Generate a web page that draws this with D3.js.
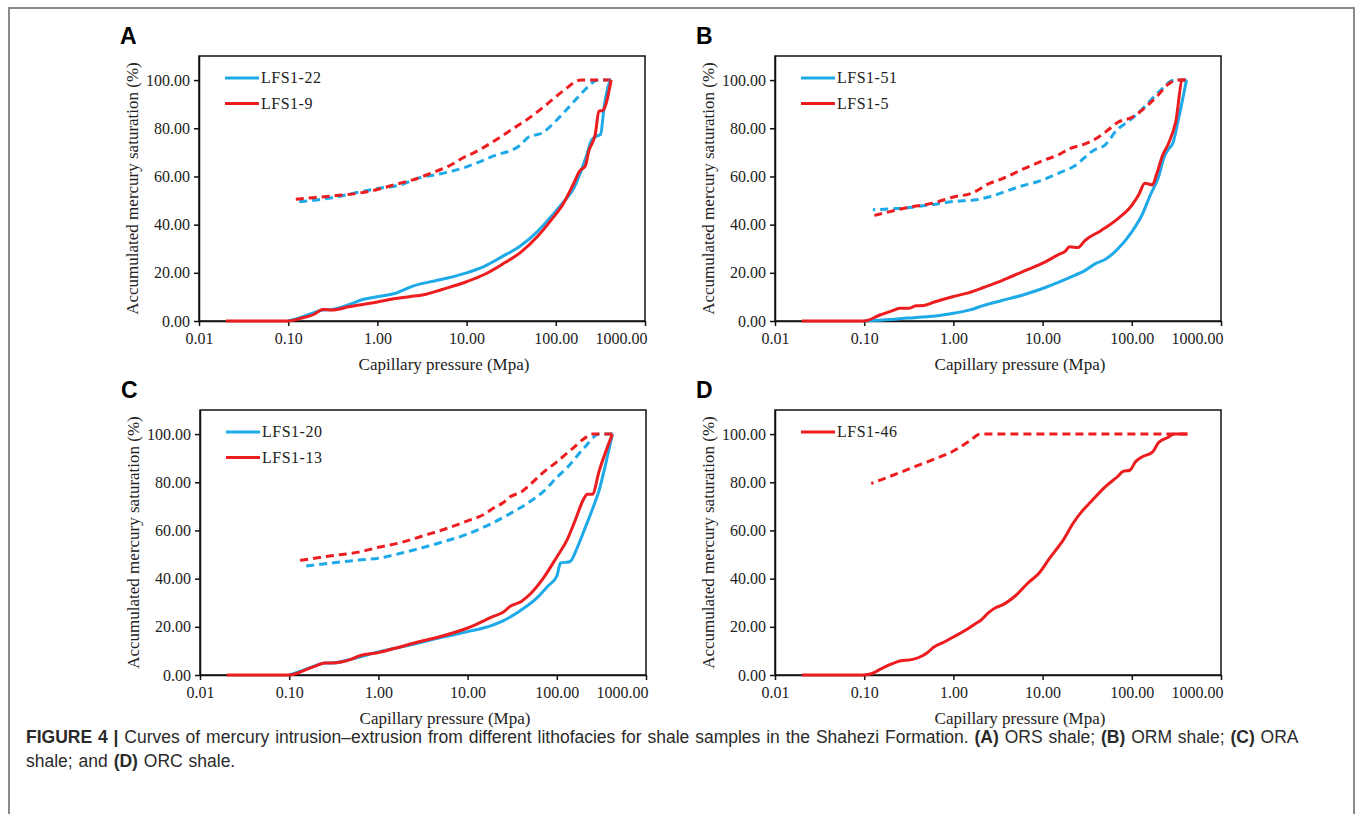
<!DOCTYPE html>
<html>
<head>
<meta charset="utf-8">
<script src="https://cdn.jsdelivr.net/npm/d3@7"></script>
<style>
  body { margin: 0; background: #fff; }
  svg { display: block; }
</style>
</head>
<body>
<svg id="fig" width="1357" height="814"></svg>
<script>
// tick labels
var xTicks = [0.01, 0.1, 1, 10, 100, 1000];
var yTicks = [0, 20, 40, 60, 80, 100];
var panelLetters = ["A", "B", "C", "D"];
var sampleNames = [["LFS1-22", "LFS1-9"], ["LFS1-51", "LFS1-5"], ["LFS1-20", "LFS1-13"], ["LFS1-46"]];

// panel A  [pressure (MPa), saturation (%)]
var a22In = [[0.1,0],[0.135,1.4],[0.195,3.5],[0.245,4.6],[0.31,4.8],[0.49,6.9],[0.7,9],[1.0,10.1],[1.6,11.5],[2.5,14.5],[5.3,17.3],[10,20],[16,22.8],[25,26.7],[40,31.1],[63,37.3],[90,43.6],[120,49.1],[160,55.3],[214,67.1],[255,75.4],[290,76.8],[318,77.5],[349,89.2],[400,99],[417,100]];
var a22Out = [[417,100],[300,100],[200,95],[150,90],[100,83],[70,78],[50,76.5],[40,73],[20,68.5],[10,64],[5,61],[3,59.5],[1.8,56.5],[1.0,55],[0.59,53.3],[0.31,51.2],[0.195,50.1],[0.123,49.4]];
var a9In = [[0.02,0],[0.1,0],[0.135,1],[0.195,2.8],[0.245,4.8],[0.31,4.6],[0.49,6],[1.0,7.9],[1.6,9.3],[2.3,10.1],[3.3,10.9],[5.3,13.1],[10,16.3],[16,19.4],[25,23.5],[40,28.4],[63,35.3],[90,42.2],[120,48.4],[160,57.4],[185,62.2],[214,64.3],[234,70.5],[277,77.5],[304,87],[339,87.5],[417,100]];
var a9Out = [[417,100],[192,100],[120,95.4],[75,89.2],[48,83.7],[30,78.8],[19,74],[12,69.8],[10,68.5],[6.3,64.3],[4.1,61.5],[2.6,58.8],[1.6,56.7],[1.0,54.6],[0.6,53],[0.31,51.9],[0.19,51.2],[0.12,50.5]];

// panel B
var b51In = [[0.1,0],[0.2,0.6],[0.3,1.2],[0.5,1.8],[0.7,2.3],[1.0,3.2],[1.5,4.5],[2.2,6.5],[3.5,8.5],[6,10.8],[10,13.5],[20,18],[30,21],[40,24],[50,25.5],[70,30],[100,37],[130,44],[160,52],[200,60],[230,68],[260,71.5],[290,74],[330,83],[410,100]];
var b51Out = [[410,100],[300,100],[200,95],[140,89],[100,84],[67,79],[50,73],[38,71],[22,64],[15,61.3],[10,58.5],[5.5,55.8],[2.6,51.7],[1.8,50.3],[1,49.6],[0.55,48.2],[0.26,46.8],[0.125,46.2]];
var b5In = [[0.02,0],[0.1,0],[0.15,2.5],[0.22,4.6],[0.25,5.3],[0.32,5.3],[0.38,6.3],[0.46,6.4],[0.6,7.8],[1.0,10.2],[1.5,11.8],[2.2,14],[3.5,16.8],[6,20.5],[10,24],[15,27.5],[18,29],[20,30.8],[25,30.5],[30,33.5],[45,37.5],[70,42.5],[100,48],[120,52.5],[140,57.2],[170,56.5],[190,61],[220,68.5],[260,74],[310,82.5],[370,100],[400,100]];
var b5Out = [[400,100],[330,100],[250,98],[200,94],[150,89.5],[100,84.5],[70,82.5],[55,79.5],[45,77],[30,73.5],[20,71.5],[15,69],[10,66.5],[6,63],[3.5,59],[2.5,57],[1.6,53],[1.0,51.5],[0.6,49],[0.3,47],[0.13,43.8]];

// panel C
var c20In = [[0.1,0],[0.15,2.2],[0.2,4],[0.25,5],[0.3,5],[0.5,6.6],[1.0,9.6],[2,12],[5,15.5],[10,18],[15,19.5],[25,22.5],[40,27],[60,32],[80,37],[100,41],[110,46.5],[140,47],[170,53],[210,61.5],[255,69.5],[300,77],[340,85],[420,100]];
var c20Out = [[420,100],[300,100],[200,94],[130,86],[100,82],[70,76],[50,72],[30,67],[20,63.5],[10,58.5],[5,55],[2,51],[1,48.5],[0.6,47.7],[0.3,46.5],[0.14,45]];
var c13In = [[0.02,0],[0.1,0],[0.15,2],[0.2,3.8],[0.25,5],[0.3,5],[0.5,6.6],[0.6,7.8],[1.0,9.3],[1.5,11],[3,14],[5,16],[10,19.5],[20,24.5],[25,26],[30,28.5],[40,30.5],[50,33.5],[70,40],[100,49],[130,56],[160,64],[200,73],[220,75],[250,75],[300,85],[420,100]];
var c13Out = [[420,100],[250,100],[200,98],[150,94],[100,88.5],[70,84],[50,79],[40,76],[30,74],[25,71.5],[20,69.5],[15,66.5],[10,64],[6,61],[3,57.5],[1.8,55],[1,53],[0.6,51],[0.3,49.5],[0.13,47.5]];

// panel D
var d46In = [[0.02,0],[0.1,0],[0.12,0.5],[0.15,2.3],[0.2,4.5],[0.25,5.8],[0.35,6.5],[0.45,8],[0.5,9],[0.6,11.5],[0.8,13.8],[1,15.8],[1.5,19.5],[1.8,21.5],[2,22.5],[2.5,26],[3,28],[3.5,29],[5,33],[7,38.5],[9,42],[12,48.5],[17,56],[22,63],[27,67.5],[35,72],[50,78],[70,82.5],[80,84.5],[95,85],[110,88.5],[130,90.5],[170,92.5],[200,96.5],[250,98.5],[300,100],[420,100]];
var d46Out = [[420,100],[2,100],[1.5,97],[1,93],[0.6,89.5],[0.4,87],[0.25,84],[0.12,79.5]];

var blue = "#1ea9e8", red = "#ec1c1f";

var panels = [
  {left: 199, top: 56, series: [{name: sampleNames[0][0], color: blue, inn: a22In, out: a22Out}, {name: sampleNames[0][1], color: red, inn: a9In, out: a9Out}]},
  {left: 775, top: 56, series: [{name: sampleNames[1][0], color: blue, inn: b51In, out: b51Out}, {name: sampleNames[1][1], color: red, inn: b5In, out: b5Out}]},
  {left: 200, top: 410, series: [{name: sampleNames[2][0], color: blue, inn: c20In, out: c20Out}, {name: sampleNames[2][1], color: red, inn: c13In, out: c13Out}]},
  {left: 775, top: 410, series: [{name: sampleNames[3][0], color: red, inn: d46In, out: d46Out}]}
];

var width = 446, height = 265;

var svg = d3.select("#fig");

// page frame
svg.append("path")
  .attr("d", "M9,814 V8 H1354 V814")
  .style("fill", "none")
  .style("stroke", "#8a8a8a")
  .style("stroke-width", "2px");

var x = d3.scaleLog().domain([0.01, 1000]).range([0, width]);
var y = d3.scaleLinear().domain([0, 110]).range([height, 0]);

var line = d3.line()
  .x(function(d) { return x(d[0]); })
  .y(function(d) { return y(d[1]); })
  .curve(d3.curveMonotoneX);

panels.forEach(function(p, i) {
  var g = svg.append("g").attr("transform", "translate(" + p.left + "," + p.top + ")");

  // panel letter
  svg.append("text")
    .attr("x", p.left - 79)
    .attr("y", p.top - 12)
    .style("font-family", "Liberation Sans, Arial, sans-serif")
    .style("font-weight", "bold")
    .style("font-size", "23px")
    .text(panelLetters[i]);

  // box
  g.append("rect")
    .attr("width", width).attr("height", height)
    .style("fill", "none").style("stroke", "#111").style("stroke-width", "1.5px");

  // axes
  var xa = g.append("g")
    .attr("transform", "translate(0," + height + ")")
    .call(d3.axisBottom(x).tickValues(xTicks).tickSize(5).tickSizeOuter(0).tickFormat(function(d) { return d.toFixed(2); }));
  var ya = g.append("g")
    .call(d3.axisLeft(y).tickValues(yTicks).tickSize(5).tickSizeOuter(0).tickFormat(function(d) { return d.toFixed(2); }));
  [xa, ya].forEach(function(a) {
    a.select(".domain").style("stroke", "#111").style("stroke-width", "1.5px");
    a.selectAll(".tick line").style("stroke", "#111").style("stroke-width", "1.5px");
    a.selectAll("text")
      .style("font-family", "Liberation Serif, Times New Roman, serif")
      .style("font-size", "16px")
      .style("fill", "#222");
  });
  xa.selectAll("text").attr("dy", "0.95em");
  // last label kept inside the chart area
  xa.selectAll(".tick").filter(function(d) { return d === 1000; })
    .select("text").attr("text-anchor", "end").attr("x", 2);
  ya.selectAll("text").attr("x", -9);

  // axis titles
  g.append("text")
    .attr("x", width / 2 + 22)
    .attr("y", height + 49)
    .attr("text-anchor", "middle")
    .style("font-family", "Liberation Serif, Times New Roman, serif")
    .style("font-size", "17px")
    .style("fill", "#222")
    .text("Capillary pressure (Mpa)");
  g.append("text")
    .attr("transform", "translate(-61," + (height / 2) + ") rotate(-90)")
    .attr("text-anchor", "middle")
    .style("font-family", "Liberation Serif, Times New Roman, serif")
    .style("font-size", "17px")
    .style("fill", "#222")
    .text("Accumulated mercury saturation (%)");

  // curves
  p.series.forEach(function(s) {
    g.append("path")
      .datum(s.out)
      .attr("d", line)
      .style("fill", "none")
      .style("stroke", s.color)
      .style("stroke-width", "3px")
      .style("stroke-dasharray", "8,5");
  });
  p.series.forEach(function(s) {
    g.append("path")
      .datum(s.inn)
      .attr("d", line)
      .style("fill", "none")
      .style("stroke", s.color)
      .style("stroke-width", "3px");
  });

  // legend
  p.series.forEach(function(s, k) {
    var ly = 22 + k * 25.5;
    g.append("line")
      .attr("x1", 26).attr("x2", 60)
      .attr("y1", ly).attr("y2", ly)
      .style("stroke", s.color).style("stroke-width", "3px");
    g.append("text")
      .attr("x", 62).attr("y", ly + 5)
      .style("font-family", "Liberation Serif, Times New Roman, serif")
      .style("font-size", "16px")
      .style("letter-spacing", "0.5px")
      .style("fill", "#222")
      .text(s.name);
  });
});

// caption
var cap = svg.append("text")
  .style("font-family", "Liberation Sans, Arial, sans-serif")
  .style("font-size", "17.5px")
  .style("word-spacing", "1px")
  .style("fill", "#2a2a2a");
var l1 = cap.append("tspan").attr("x", 26).attr("y", 743);
l1.append("tspan").style("font-weight", "bold").text("FIGURE 4 | ");
l1.append("tspan").text("Curves of mercury intrusion\u2013extrusion from different lithofacies for shale samples in the Shahezi Formation. ");
l1.append("tspan").style("font-weight", "bold").text("(A)");
l1.append("tspan").text(" ORS shale; ");
l1.append("tspan").style("font-weight", "bold").text("(B)");
l1.append("tspan").text(" ORM shale; ");
l1.append("tspan").style("font-weight", "bold").text("(C)");
l1.append("tspan").text(" ORA");
var l2 = cap.append("tspan").attr("x", 26).attr("y", 767);
l2.append("tspan").text("shale; and ");
l2.append("tspan").style("font-weight", "bold").text("(D)");
l2.append("tspan").text(" ORC shale.");
</script>
</body>
</html>
